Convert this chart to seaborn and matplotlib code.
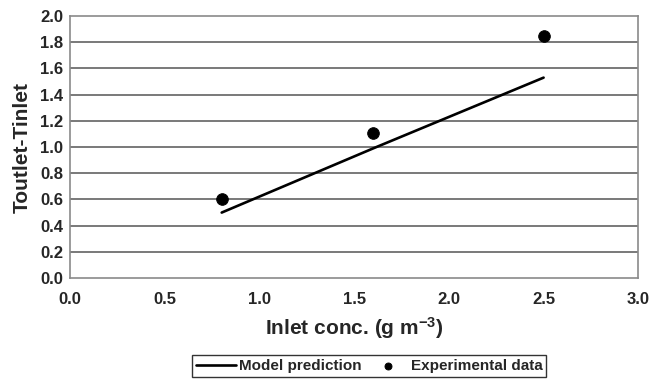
import matplotlib
matplotlib.use('Agg')
import matplotlib.pyplot as plt
import seaborn as sns
import pandas as pd

# model prediction and measurements
model_x = [0.8, 1.6, 2.5]
model_y = [0.50, 0.99, 1.53]
exp_x = [0.8, 1.6, 2.5]
exp_y = [0.60, 1.11, 1.85]

x_ticks = [0.0, 0.5, 1.0, 1.5, 2.0, 2.5, 3.0]
y_ticks = [0.0, 0.2, 0.4, 0.6, 0.8, 1.0, 1.2, 1.4, 1.6, 1.8, 2.0]

sns.set_style('white')
plt.rcParams['font.family'] = ['Liberation Sans', 'DejaVu Sans']
plt.rcParams['font.weight'] = 'bold'
plt.rcParams['mathtext.fontset'] = 'custom'
plt.rcParams['mathtext.rm'] = 'Liberation Sans:bold'
plt.rcParams['mathtext.it'] = 'Liberation Sans:bold'
plt.rcParams['mathtext.bf'] = 'Liberation Sans:bold'

model = pd.DataFrame({'x': model_x, 'y': model_y})
exp = pd.DataFrame({'x': exp_x, 'y': exp_y})

fig = plt.figure(figsize=(6.56, 3.82), dpi=100)
ax = fig.add_axes([0.107, 0.272, 0.866, 0.686])

for t in y_ticks[1:-1]:
    ax.axhline(t, color='#6e6e6e', linewidth=1.3, zorder=1)

sns.lineplot(data=model, x='x', y='y', ax=ax, color='black', linewidth=1.9,
             label='Model prediction', zorder=3)
sns.scatterplot(data=exp, x='x', y='y', ax=ax, color='black', s=70,
                edgecolor='black', label='Experimental data', zorder=4)

ax.set_xlim(0, 3.0)
ax.set_ylim(0, 2.0)
ax.set_xticks(x_ticks)
ax.set_yticks(y_ticks)
ax.set_xticklabels([f'{v:.1f}' for v in x_ticks], fontsize=12, fontweight='bold')
ax.set_yticklabels([f'{v:.1f}' for v in y_ticks], fontsize=12, fontweight='bold')
ax.tick_params(axis='x', direction='in', length=4, color='#6e6e6e', pad=10)
ax.tick_params(axis='y', direction='out', length=3, color='#6e6e6e', pad=2)

for loc in ['top', 'bottom', 'right', 'left']:
    ax.spines[loc].set_color('#8a8a8a')
    ax.spines[loc].set_linewidth(1.2)

ax.set_xlabel('Inlet conc. (g m$^{-3}$)', fontsize=15, fontweight='bold', labelpad=6)
ax.set_ylabel('Toutlet-Tinlet', fontsize=15, fontweight='bold', labelpad=6)

leg = ax.legend(loc='center', bbox_to_anchor=(0.563, 0.042), bbox_transform=fig.transFigure,
                ncol=2, frameon=True, fancybox=False, fontsize=11, markerscale=0.6,
                handlelength=2.6, columnspacing=0.4, borderpad=0.25, handletextpad=0.2)
leg.get_frame().set_edgecolor('black')
leg.get_frame().set_linewidth(1.0)
for txt in leg.get_texts():
    txt.set_fontweight('bold')

fig.savefig('out.png', dpi=100)
